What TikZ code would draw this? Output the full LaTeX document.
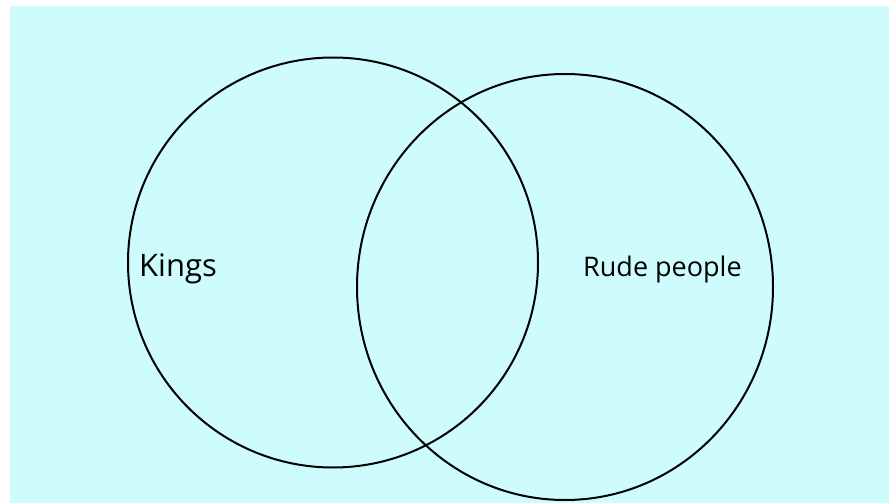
\documentclass[tikz,border=0pt]{standalone}
\usepackage{fontspec}
\setmainfont{Open Sans}
\usetikzlibrary{positioning}

\definecolor{venncyan}{RGB}{206,252,252}

\begin{document}
\begin{tikzpicture}[x=1pt,y=-1pt]

      % Page size
      \useasboundingbox (0,0) rectangle (889,503);

      % Background
      \fill[venncyan] (10,6) rectangle (889,503);

      % Set of kings
      \draw[line width=2pt] (333,262.5) circle [radius=205];

      % Set of rude people
      \draw[line width=2pt] (565,287) ellipse [x radius=208, y radius=213];

      % Labels
      \node[anchor=base west, inner sep=0pt, font=\fontsize{31}{36}\selectfont] (kings) at (139,276) {Kings};
      \node[anchor=base west, inner sep=0pt, font=\fontsize{27}{32}\selectfont] (rude) at (583,276) {Rude people};

    \end{tikzpicture}
\end{document}
